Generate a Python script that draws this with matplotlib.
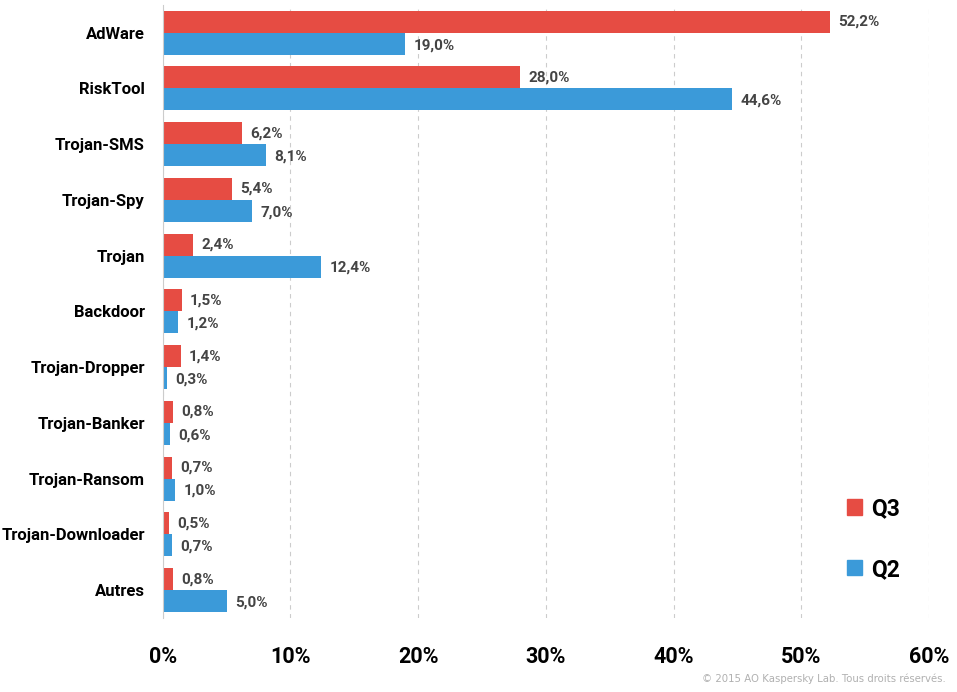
import matplotlib
matplotlib.use("Agg")
import matplotlib.pyplot as plt
from matplotlib.patches import Patch
import numpy as np

# données
categories = ["AdWare", "RiskTool", "Trojan-SMS", "Trojan-Spy", "Trojan", "Backdoor",
              "Trojan-Dropper", "Trojan-Banker", "Trojan-Ransom", "Trojan-Downloader", "Autres"]
q3 = [52.2, 28.0, 6.2, 5.4, 2.4, 1.5, 1.4, 0.8, 0.7, 0.5, 0.8]
q2 = [19.0, 44.6, 8.1, 7.0, 12.4, 1.2, 0.3, 0.6, 1.0, 0.7, 5.0]
xticks = [0, 10, 20, 30, 40, 50, 60]

RED = "#e64c43"
BLUE = "#3b9ad9"
FONT = ["Roboto", "DejaVu Sans"]
plt.rcParams["font.family"] = FONT

fig = plt.figure(figsize=(9.57, 6.92), dpi=100)
ax = fig.add_axes([0.170, 0.107, 0.801, 0.886])

y = np.arange(len(categories))
h = 0.394
ax.barh(y - h / 2, q3, height=h, color=RED, label="Q3")
ax.barh(y + h / 2, q2, height=h, color=BLUE, label="Q2")

def fmt(v):
    return f"{v:.1f}%".replace(".", ",")

for i in range(len(categories)):
    ax.annotate(fmt(q3[i]), (q3[i], y[i] - h / 2), xytext=(6, 0), textcoords="offset points",
                va="center", ha="left", fontsize=11, fontweight="bold", color="#444444")
    ax.annotate(fmt(q2[i]), (q2[i], y[i] + h / 2), xytext=(6, -1), textcoords="offset points",
                va="center", ha="left", fontsize=11, fontweight="bold", color="#444444")

ax.set_ylim(10.5, -0.5)
ax.set_xlim(0, 60)
ax.set_yticks(y)
ax.set_yticklabels(categories, fontsize=12, fontweight="bold", color="black")
ax.set_xticks(xticks)
ax.set_xticklabels([f"{t}%" for t in xticks], fontsize=15.5, fontweight="bold")
ax.tick_params(axis="both", length=0)
ax.tick_params(axis="y", pad=13)
ax.tick_params(axis="x", pad=20)

ax.grid(axis="x", color="#cccccc", linestyle=(0, (4, 4)), linewidth=0.8)
ax.set_axisbelow(True)
for s in ["top", "right", "bottom"]:
    ax.spines[s].set_visible(False)
ax.spines["left"].set_color("#cccccc")

handles = [Patch(color=RED, label="Q3"), Patch(color=BLUE, label="Q2")]
leg = ax.legend(handles=handles, loc="upper left", bbox_to_anchor=(0.878, 0.216),
                frameon=False, borderpad=0, handlelength=0.65, handleheight=0.65,
                handletextpad=0.4, labelspacing=1.65,
                prop={"size": 16.5, "weight": "bold", "family": FONT})

fig.text(0.9885, 0.012, "© 2015 AO Kaspersky Lab. Tous droits réservés.", ha="right",
         va="bottom", fontsize=7.3, color="#b0b0b0", family=["DejaVu Sans"])

fig.savefig("out.png", dpi=100)
